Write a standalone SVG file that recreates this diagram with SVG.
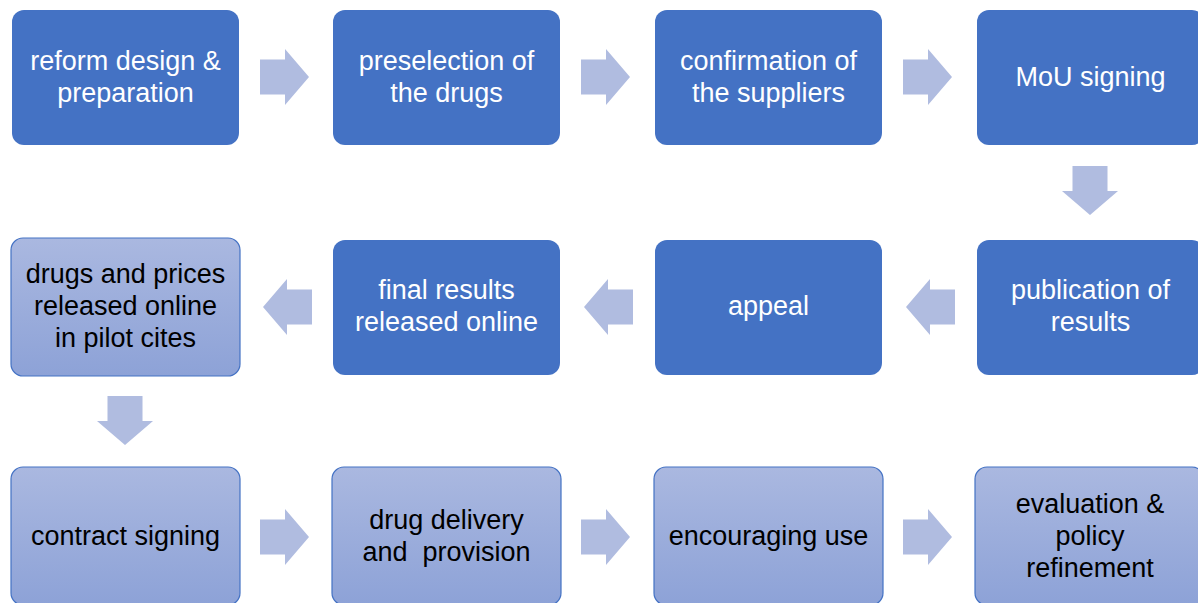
<svg xmlns="http://www.w3.org/2000/svg" width="1198" height="603" viewBox="0 0 1198 603">
<style>
.solid{fill:#4472C4}
.grad{fill:url(#g);stroke:#4472C4;stroke-width:1.2}
.tw{font-family:"Liberation Sans",Arial,sans-serif;font-size:27px;fill:#FFFFFF;text-anchor:middle}
.tb{font-family:"Liberation Sans",Arial,sans-serif;font-size:27px;fill:#000000;text-anchor:middle}
.arr{fill:#B0BCE0}
</style>
<defs>
<linearGradient id="g" x1="0" y1="0" x2="0" y2="1">
<stop offset="0" stop-color="#AAB8E0"/>
<stop offset="1" stop-color="#8DA2D7"/>
</linearGradient>
<path id="ar" d="M0,-17.5 H25 V-28 L49,0 L25,28 V17.5 H0 Z"/>
</defs>
<rect width="1198" height="603" fill="#FFFFFF"/>
<g id="connectors" class="arr">
<use href="#ar" transform="translate(260,77)"/>
<use href="#ar" transform="translate(581,77)"/>
<use href="#ar" transform="translate(903,77)"/>
<use href="#ar" transform="translate(1090,166) rotate(90)"/>
<use href="#ar" transform="translate(955,307) rotate(180)"/>
<use href="#ar" transform="translate(633,307) rotate(180)"/>
<use href="#ar" transform="translate(312,307) rotate(180)"/>
<use href="#ar" transform="translate(125,396) rotate(90)"/>
<use href="#ar" transform="translate(260,537)"/>
<use href="#ar" transform="translate(581,537)"/>
<use href="#ar" transform="translate(903,537)"/>
</g>
<g id="n1"><rect class="solid" x="12" y="10" width="227" height="135" rx="12"/>
<text class="tw" x="125.5" y="70">reform design &amp;</text><text class="tw" x="125.5" y="102">preparation</text></g>
<g id="n2"><rect class="solid" x="333" y="10" width="227" height="135" rx="12"/>
<text class="tw" x="446.5" y="70">preselection of</text><text class="tw" x="446.5" y="102">the drugs</text></g>
<g id="n3"><rect class="solid" x="655" y="10" width="227" height="135" rx="12"/>
<text class="tw" x="768.5" y="70">confirmation of</text><text class="tw" x="768.5" y="102">the suppliers</text></g>
<g id="n4"><rect class="solid" x="977" y="10" width="227" height="135" rx="12"/>
<text class="tw" x="1090.5" y="86">MoU signing</text></g>
<g id="n5"><rect class="solid" x="977" y="240" width="227" height="135" rx="12"/>
<text class="tw" x="1090.5" y="299">publication of</text><text class="tw" x="1090.5" y="331">results</text></g>
<g id="n6"><rect class="solid" x="655" y="240" width="227" height="135" rx="12"/>
<text class="tw" x="768.5" y="315">appeal</text></g>
<g id="n7"><rect class="solid" x="333" y="240" width="227" height="135" rx="12"/>
<text class="tw" x="446.5" y="299">final results</text><text class="tw" x="446.5" y="331">released online</text></g>
<g id="n8"><rect class="grad" x="11" y="238" width="229" height="138" rx="12"/>
<text class="tb" x="125.5" y="283">drugs and prices</text><text class="tb" x="125.5" y="315">released online</text><text class="tb" x="125.5" y="347">in pilot cites</text></g>
<g id="n9"><rect class="grad" x="11" y="467" width="229" height="138" rx="12"/>
<text class="tb" x="125.5" y="545">contract signing</text></g>
<g id="n10"><rect class="grad" x="332" y="467" width="229" height="138" rx="12"/>
<text class="tb" x="446.5" y="529">drug delivery</text><text class="tb" x="446.5" y="561" xml:space="preserve">and  provision</text></g>
<g id="n11"><rect class="grad" x="654" y="467" width="229" height="138" rx="12"/>
<text class="tb" x="768.5" y="545">encouraging use</text></g>
<g id="n12"><rect class="grad" x="975" y="467" width="229" height="138" rx="12"/>
<text class="tb" x="1090" y="513">evaluation &amp;</text><text class="tb" x="1090" y="545">policy</text><text class="tb" x="1090" y="577">refinement</text></g>
</svg>
